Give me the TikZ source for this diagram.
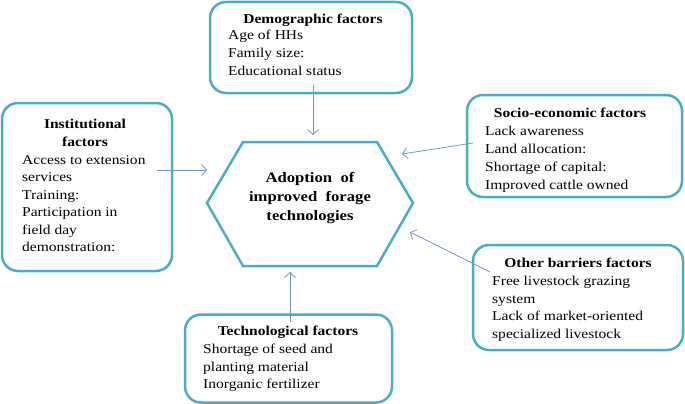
\documentclass[tikz,border=0pt]{standalone}
\usepackage{fontspec}
\setmainfont{Liberation Serif}[FakeStretch=1.15]
\usetikzlibrary{arrows.meta}
\definecolor{boxc}{HTML}{4BACC6}
\definecolor{arrc}{HTML}{6F97D0}
\begin{document}
\begin{tikzpicture}[x=1pt,y=-1pt,
  box/.style={draw=boxc, line width=2.5pt, rounded corners=16pt, fill=white, inner sep=0pt},
  ttl/.style={font=\fontsize{13.5}{17.5}\selectfont\bfseries, anchor=base, inner sep=0pt},
  ln/.style={font=\fontsize{13.5}{17.5}\selectfont, anchor=base west, inner sep=0pt},
  hx/.style={font=\fontsize{14.5}{19}\selectfont\bfseries, anchor=base, inner sep=0pt},
  arr/.style={draw=arrc, line width=0.8pt, -{Straight Barb[length=5pt,width=11pt]}}]
\useasboundingbox (0,0) rectangle (685,404);
% boxes
\node[box, minimum width=202pt, minimum height=91pt] (demo) at (311,47.5) {};
\node[box, minimum width=170pt, minimum height=168pt] (inst) at (87,187) {};
\node[box, minimum width=215pt, minimum height=102pt] (socio) at (574.5,146) {};
\node[box, minimum width=210pt, minimum height=105pt] (other) at (578,297.5) {};
\node[box, minimum width=207pt, minimum height=88pt] (tech) at (288.5,358.5) {};
% hexagon
\coordinate (h1) at (207,203);
\coordinate (h2) at (243,142);
\coordinate (h3) at (377,142);
\coordinate (h4) at (413,203);
\coordinate (h5) at (377,266);
\coordinate (h6) at (243,266);
\draw[boxc, line width=2.5pt, line join=miter] (h1) -- (h2) -- (h3) -- (h4) -- (h5) -- (h6) -- cycle;
\node[hx] (hxa) at (310,182) {Adoption\ \ of};
\node[hx] (hxb) at (310,201) {improved\ \ forage};
\node[hx] (hxc) at (310,220) {technologies};
% demographic text
\node[ttl] (dt) at (313,23.5) {Demographic factors};
\node[ln] (d1) at (228,40) {Age of HHs};
\node[ln] (d2) at (228,57.5) {Family size:};
\node[ln] (d3) at (228,75) {Educational status};
% institutional text
\node[ttl] (it1) at (85,128) {Institutional};
\node[ttl] (it2) at (85,146) {factors};
\node[ln] (i1) at (22,164) {Access to extension};
\node[ln] (i2) at (22,181.5) {services};
\node[ln] (i3) at (22,199) {Training:};
\node[ln] (i4) at (22,216.5) {Participation in};
\node[ln] (i5) at (22,234) {field day};
\node[ln] (i6) at (22,251.5) {demonstration:};
% socio-economic text
\node[ttl] (st) at (570,117) {Socio-economic factors};
\node[ln] (s1) at (485,135) {Lack awareness};
\node[ln] (s2) at (485,153) {Land allocation:};
\node[ln] (s3) at (485,171) {Shortage of capital:};
\node[ln] (s4) at (485,189) {Improved cattle owned};
% other barriers text
\node[ttl] (ot) at (578,267) {Other barriers factors};
\node[ln] (o1) at (492,285) {Free livestock grazing};
\node[ln] (o2) at (492,303) {system};
\node[ln] (o3) at (492,320.5) {Lack of market-oriented};
\node[ln] (o4) at (492,338) {specialized livestock};
% technological text
\node[ttl] (tt) at (288,335) {Technological factors};
\node[ln] (t1) at (203,353) {Shortage of seed and};
\node[ln] (t2) at (203,371) {planting material};
\node[ln] (t3) at (203,388) {Inorganic fertilizer};
% arrows
\coordinate (a1s) at (313,85);  \coordinate (a1e) at (313,135);
\coordinate (a2s) at (157,170); \coordinate (a2e) at (207,170);
\coordinate (a3s) at (473,143); \coordinate (a3e) at (402,154);
\coordinate (a4s) at (490,272); \coordinate (a4e) at (410,232);
\coordinate (a5s) at (290,322); \coordinate (a5e) at (290,272);
\draw[arr] (a1s) -- (a1e);
\draw[arr] (a2s) -- (a2e);
\draw[arr] (a3s) -- (a3e);
\draw[arr] (a4s) -- (a4e);
\draw[arr] (a5s) -- (a5e);
\end{tikzpicture}
\end{document}
